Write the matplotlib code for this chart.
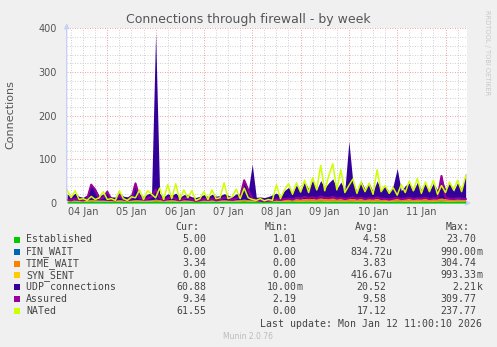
import matplotlib
matplotlib.use("Agg")
import matplotlib.pyplot as plt
import matplotlib.dates as mdates
from matplotlib.ticker import MultipleLocator
from matplotlib.patches import Rectangle
import pandas as pd
import numpy as np

# ---------------- data (2-hour samples from 2026-01-04 04:00) ----------------
start_time = "2026-01-04 04:00"
n_samples = 100

established = [4.2,4.5,4.8,4.1,3.9,4.4,5.2,4.7,4.3,4.6,
               4.0,3.8,4.2,4.9,4.5,4.1,4.3,5.0,4.6,4.4,
               4.2,4.7,5.3,4.8,4.1,4.5,4.9,4.3,4.0,4.6,
               4.4,4.1,3.9,4.2,4.7,4.5,4.3,4.8,4.4,4.6,
               4.2,4.0,4.5,4.9,5.4,4.7,4.3,4.1,3.9,4.2,
               4.4,4.6,4.8,4.5,4.3,4.9,5.1,4.7,4.4,4.8,
               5.0,4.6,4.9,5.2,4.7,4.5,5.0,4.8,4.6,4.4,
               5.1,4.7,4.5,4.9,4.6,4.8,4.4,5.0,4.7,4.5,
               4.3,4.6,5.2,4.8,4.5,4.9,4.6,4.4,4.8,5.0,
               4.7,4.5,4.9,5.3,4.6,4.4,4.8,5.1,4.9,5.0]
fin_wait = [0.0] * 100
time_wait = [2.1,2.5,1.8,2.2,2.0,2.4,3.1,2.6,2.3,2.0,
             1.9,2.2,2.5,2.8,2.1,2.0,2.3,3.0,2.6,2.2,
             2.4,2.7,3.5,2.9,2.3,2.6,2.8,2.4,2.1,2.5,
             2.2,2.0,1.8,2.1,2.4,2.3,2.6,2.9,2.5,2.7,
             2.3,2.1,2.6,3.0,3.3,2.8,2.4,2.0,1.9,2.2,
             2.5,3.1,3.8,3.4,4.2,4.8,4.5,5.1,4.9,5.6,
             5.2,5.8,5.4,6.2,5.5,5.9,6.4,5.7,5.3,5.0,
             6.1,5.6,5.2,5.8,5.4,5.9,5.1,5.7,5.3,4.9,
             4.6,5.0,5.8,5.4,5.1,5.6,5.3,4.9,5.5,5.8,
             5.2,4.8,5.4,5.9,5.1,4.7,4.3,3.9,3.6,3.34]
syn_sent = [0.0] * 100
udp = [14,8,16,9,7,12,34,26,10,14,
       18,8,7,16,9,8,14,36,14,8,
       14,16,380,14,8,14,10,16,7,12,
       12,8,7,9,12,8,13,8,10,14,
       11,8,14,12,40,20,82,7,8,6,
       8,11,14,8,20,26,14,32,18,38,
       22,42,20,40,24,36,44,22,38,20,
       130,36,18,40,22,36,16,40,18,30,
       16,30,68,18,30,36,18,38,20,34,
       18,36,20,46,22,36,18,38,24,60.88]
assured = [8,6,10,7,6,9,42,30,9,12,
           26,7,6,18,8,6,10,45,12,8,
           10,14,30,12,6,10,15,9,6,10,
           12,7,5,6,9,7,10,6,8,12,
           12,8,10,14,52,30,10,6,5,4,
           5,6,8,7,9,10,8,12,10,14,
           11,13,10,15,12,11,14,10,12,9,
           11,13,10,12,9,11,10,13,9,10,
           8,10,12,9,10,12,9,11,10,12,
           9,11,10,62,12,10,9,11,10,9.34]
nated = [30,12,28,8,10,6,15,8,12,26,
         8,10,6,28,10,6,14,12,30,8,
         28,20,12,34,8,42,10,44,8,30,
         12,28,6,10,26,8,30,10,12,46,
         10,14,32,10,34,12,8,6,10,5,
         8,6,42,10,30,44,20,46,25,52,
         24,58,30,86,28,62,90,30,76,24,
         40,55,22,48,26,45,20,76,26,40,
         22,35,18,42,24,50,28,56,22,48,
         26,52,20,40,24,48,30,52,26,61.55]

series_labels = ["Established", "FIN_WAIT", "TIME_WAIT", "SYN_SENT",
                 "UDP connections", "Assured", "NATed"]
series_colors = ["#00CC00", "#0066B3", "#FF8000", "#FFCC00",
                 "#330099", "#990099", "#CCFF00"]
cur_vals = ["5.00", "0.00", "3.34", "0.00", "60.88", "9.34", "61.55"]
min_vals = ["1.01", "0.00", "0.00", "0.00", "10.00m", "2.19", "0.00"]
avg_vals = ["4.58", "834.72u", "3.83", "416.67u", "20.52", "9.58", "17.12"]
max_vals = ["23.70", "990.00m", "304.74", "993.33m", "2.21k", "309.77", "237.77"]

title = "Connections through firewall - by week"
ylabel = "Connections"
y_ticks = [0, 100, 200, 300, 400]
last_update = "Last update: Mon Jan 12 11:00:10 2026"
munin_ver = "Munin 2.0.76"
side_text = "RRDTOOL / TOBI OETIKER"

# ---------------- figure ----------------
W, H = 497, 347
fig = plt.figure(figsize=(W / 100, H / 100), dpi=100, facecolor="#F0F0F0")

def fx(px):
    return px / W

def fy(py):
    return 1 - py / H

L, R, T, B = 66.7, 467.0, 28.3, 203.0
ax = fig.add_axes([fx(L), fy(B), fx(R - L), (B - T) / H])
ax.set_facecolor("white")
for s in ax.spines.values():
    s.set_visible(False)

times = pd.date_range(start_time, periods=n_samples, freq="2h")
tx = mdates.date2num(times.to_pydatetime())

stack_series = [established, fin_wait, time_wait, syn_sent, udp]
base = np.zeros(n_samples)
for vals, col in zip(stack_series, series_colors[:5]):
    top = base + np.asarray(vals, dtype=float)
    ax.fill_between(tx, base, top, color=col, linewidth=0, zorder=3)
    base = top
ax.plot(tx, assured, color=series_colors[5], lw=1.5, zorder=4)
ax.plot(tx, nated, color=series_colors[6], lw=1.1, zorder=5)

x0 = mdates.date2num(pd.Timestamp("2026-01-04 03:50").to_pydatetime())
x1 = mdates.date2num(pd.Timestamp("2026-01-12 10:40").to_pydatetime())
ax.set_xlim(x0, x1)
ax.set_ylim(0, 400)

# grids
ax.yaxis.set_major_locator(MultipleLocator(100))
ax.yaxis.set_minor_locator(MultipleLocator(20))
ax.xaxis.set_major_locator(mdates.DayLocator())
ax.xaxis.set_minor_locator(mdates.HourLocator(byhour=[6, 12, 18]))
ax.grid(which="minor", color="#c0c0c0", linestyle=(0, (1, 2)), lw=0.6, zorder=1)
ax.grid(which="major", color="#f08080", linestyle=(0, (1, 2)), lw=0.6, zorder=1)
ax.set_axisbelow(True)

ax.set_yticks(y_ticks)
ax.set_yticklabels([str(v) for v in y_ticks])
ax.tick_params(axis="y", which="both", length=0, pad=7, labelsize=7, labelcolor="#555555")
ax.tick_params(axis="x", which="both", length=0, labelbottom=False)

# x labels at noon of each day
label_days = pd.date_range("2026-01-04 12:00", periods=8, freq="D")
for d in label_days:
    xd = mdates.date2num(d.to_pydatetime())
    ax.text(xd, -0.053, d.strftime("%d %b"), transform=ax.get_xaxis_transform(),
            ha="center", va="center", fontsize=7, color="#555555")

# axis lines with arrows
axis_col = "#C8D0F4"
ax.annotate("", xy=(0, 1.045), xytext=(0, 0), xycoords="axes fraction",
            arrowprops=dict(arrowstyle="-|>", color=axis_col, lw=1, mutation_scale=7),
            annotation_clip=False, zorder=6)
ax.annotate("", xy=(1.017, 0), xytext=(0, 0), xycoords="axes fraction",
            arrowprops=dict(arrowstyle="-|>", color=axis_col, lw=1, mutation_scale=7),
            annotation_clip=False, zorder=2)

# titles
fig.text(fx(248.5), fy(19.3), title, ha="center", va="center", fontsize=9, color="#555555")
fig.text(fx(10.5), fy(115), ylabel, ha="center", va="center", rotation=90,
         fontsize=8, color="#555555")
fig.text(fx(487.5), fy(53), side_text, ha="center", va="center", rotation=-90,
         fontsize=4.8, color="#C8C8C8")

# legend table
mono = "DejaVu Sans Mono"
fs = 7.1
tc = "#444444"
hy = 227.3
for txt, xr in zip(["Cur:", "Min:", "Avg:", "Max:"], [199, 289, 379, 470]):
    fig.text(fx(xr), fy(hy), txt, ha="right", va="center", family=mono, fontsize=fs, color=tc)

row_y = [239.5, 251.6, 263.5, 275.4, 287.4, 299.4, 311.3]
col_r = [206.3, 296.3, 386.3, 476.6]
for i, lab in enumerate(series_labels):
    yy = row_y[i]
    fig.patches.append(Rectangle((fx(14), fy(yy + 3)), fx(6), 6 / H,
                                 transform=fig.transFigure, facecolor=series_colors[i],
                                 edgecolor="none"))
    fig.text(fx(26), fy(yy), lab, ha="left", va="center", family=mono, fontsize=fs, color=tc)
    for vals, xr in zip([cur_vals, min_vals, avg_vals, max_vals], col_r):
        v = vals[i]
        suf = ""
        if v[-1] in "umk":
            v, suf = v[:-1], v[-1]
        fig.text(fx(xr), fy(yy), v, ha="right", va="center", family=mono, fontsize=fs, color=tc)
        if suf:
            fig.text(fx(xr), fy(yy), suf, ha="left", va="center", family=mono, fontsize=fs, color=tc)

fig.text(fx(482.5), fy(323.7), last_update, ha="right", va="center", family=mono,
         fontsize=fs, color=tc)
fig.text(fx(248), fy(336.5), munin_ver, ha="center", va="center", fontsize=5.5, color="#BBBBBB")

fig.savefig("out.png", dpi=100, facecolor=fig.get_facecolor())
